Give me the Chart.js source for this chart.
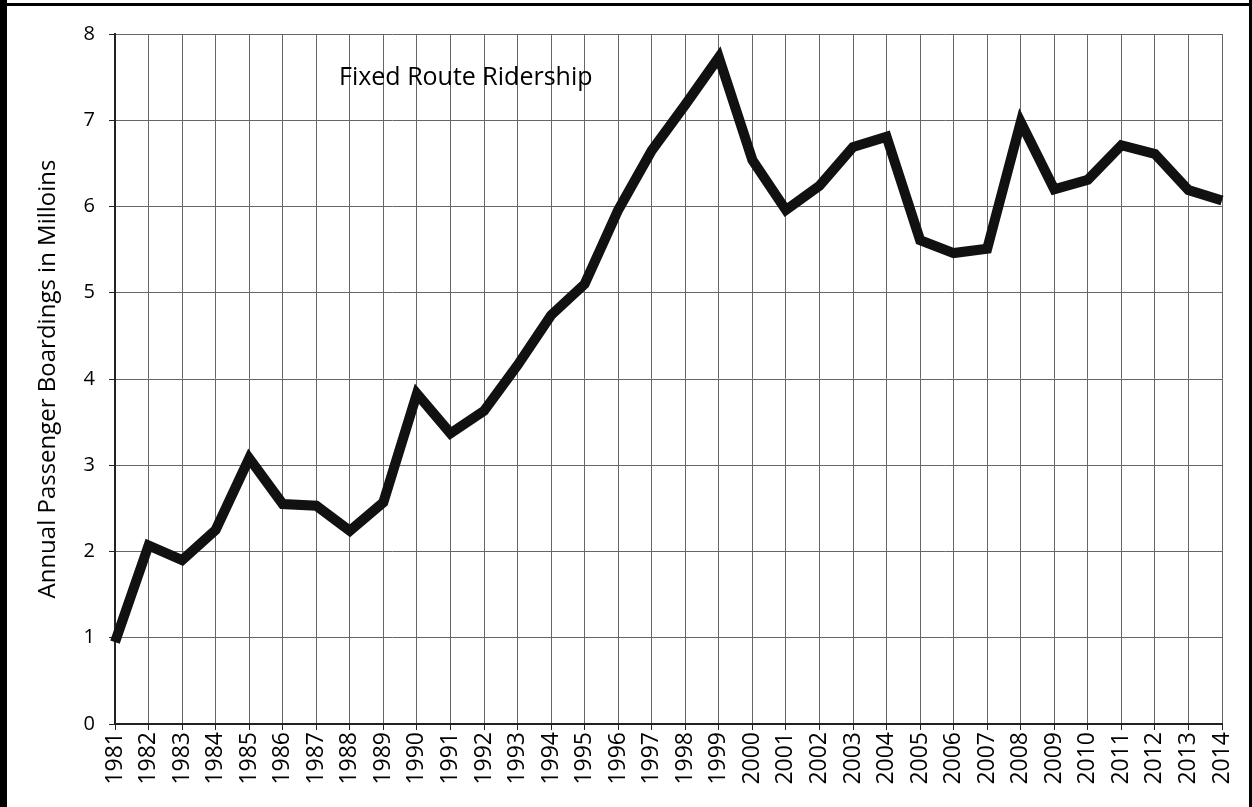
<!DOCTYPE html>
<html>
<head>
<meta charset="utf-8">
<style>
  html, body { margin: 0; padding: 0; background: #fff; }
  #wrap { width: 1252px; height: 807px; position: relative; }
</style>
<script src="https://cdn.jsdelivr.net/npm/chart.js@4.4.1/dist/chart.umd.min.js"></script>
</head>
<body>
<div id="wrap"><canvas id="chart" width="1252" height="807"></canvas></div>
<script>
// years on the x axis
const years = [
  '1981','1982','1983','1984','1985','1986','1987','1988','1989','1990',
  '1991','1992','1993','1994','1995','1996','1997','1998','1999','2000',
  '2001','2002','2003','2004','2005','2006','2007','2008','2009','2010',
  '2011','2012','2013','2014'
];

// annual boardings, millions
const boardings = [
  0.95, 2.07, 1.90, 2.25, 3.08, 2.55, 2.53, 2.24, 2.57, 3.83,
  3.37, 3.63, 4.16, 4.74, 5.10, 5.96, 6.65, 7.18, 7.73, 6.54,
  5.96, 6.24, 6.69, 6.81, 5.61, 5.46, 5.51, 6.98, 6.20, 6.31,
  6.71, 6.61, 6.19, 6.07
];

const yTicks = [0, 1, 2, 3, 4, 5, 6, 7, 8];

const chartTitle = 'Fixed Route Ridership';
const yTitle = 'Annual Passenger Boardings in Milloins';

const FONT = "'Open Sans', 'Noto Sans', sans-serif";

// title sits inside the plot area, plus the black scan frame on the edges
const overlay = {
  id: 'overlay',
  afterDraw(chart) {
    const ctx = chart.ctx;
    const area = chart.chartArea;
    ctx.save();
    ctx.fillStyle = '#000';
    ctx.font = '25px ' + FONT;
    ctx.textAlign = 'left';
    ctx.textBaseline = 'middle';
    ctx.fillText(chartTitle, area.left + 224, area.top + 44);

    ctx.fillRect(0, 0, 7, chart.height);
    ctx.fillRect(0, 3, chart.width, 3);
    ctx.fillRect(chart.width - 3, 0, 3, chart.height);
    ctx.restore();
  }
};

new Chart(document.getElementById('chart').getContext('2d'), {
  type: 'line',
  data: {
    labels: years,
    datasets: [{
      data: boardings,
      borderColor: '#111',
      borderWidth: 10,
      pointRadius: 0,
      tension: 0,
      borderJoinStyle: 'miter',
      fill: false
    }]
  },
  options: {
    responsive: false,
    animation: false,
    layout: { padding: { top: 34, right: 30, left: 0, bottom: 0 } },
    plugins: {
      legend: { display: false },
      tooltip: { enabled: false }
    },
    scales: {
      x: {
        offset: false,
        grid: { color: '#666', lineWidth: 1, drawTicks: true, tickLength: 6, tickColor: '#222' },
        border: { color: '#222', width: 2 },
        ticks: {
          color: '#000',
          font: { size: 23, family: FONT },
          minRotation: 90,
          maxRotation: 90,
          autoSkip: false,
          padding: 2
        },
        afterFit(s) { s.height = 83; }
      },
      y: {
        min: 0,
        max: 8,
        afterBuildTicks(s) { s.ticks = yTicks.map(v => ({ value: v })); },
        grid: { color: '#666', lineWidth: 1, drawTicks: true, tickLength: 6, tickColor: '#222' },
        border: { color: '#222', width: 2 },
        ticks: {
          color: '#000',
          font: { size: 20, family: FONT },
          padding: 14
        },
        title: {
          display: true,
          text: yTitle,
          color: '#000',
          font: { size: 24, family: FONT },
          padding: { top: 34, bottom: 0 }
        },
        afterFit(s) { s.width = 115; }
      }
    }
  },
  plugins: [overlay]
});
</script>
</body>
</html>
